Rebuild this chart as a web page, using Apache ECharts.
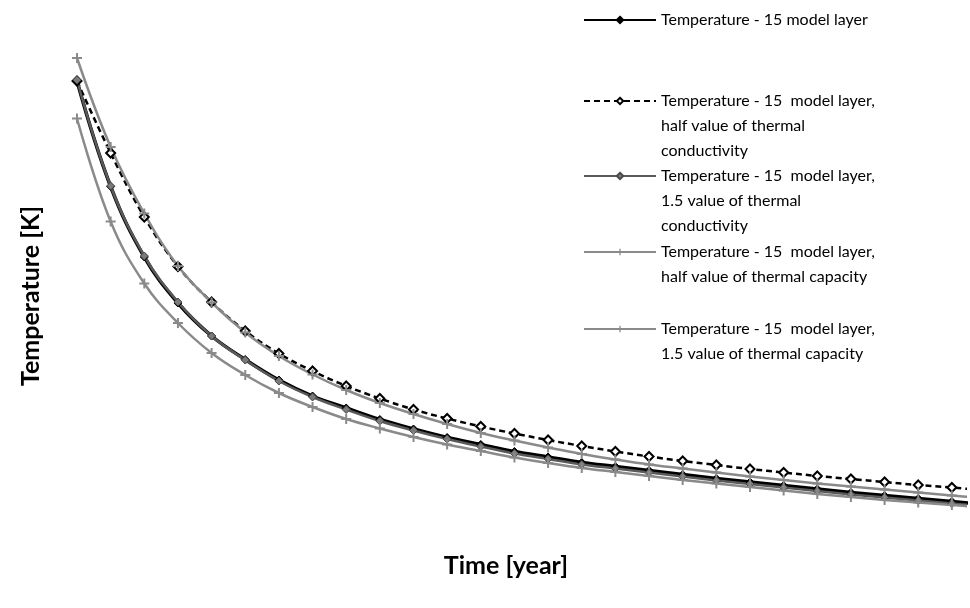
<!DOCTYPE html>
<html>
<head>
<meta charset="utf-8">
<script src="https://cdn.jsdelivr.net/npm/echarts@6/dist/echarts.min.js"></script>
<style>
  html, body { margin: 0; padding: 0; background: #fff; }
  #chart { width: 970px; height: 608px; }
</style>
</head>
<body>
<div id="chart"></div>
<script>
// Time steps along the horizontal axis (years)
const years = [0, 1, 2, 3, 4, 5, 6, 7, 8, 9, 10, 11, 12, 13, 14, 15, 16, 17, 18, 19, 20, 21, 22, 23, 24, 25, 26, 27];

// Temperature curves (relative scale) for the 15-layer model variants
const tempBase = [527, 421.5, 351, 305, 272, 248.5, 228, 212, 200, 188.5, 179, 170.5, 163.5, 156.5, 151, 145.5, 141.5, 137.5, 133.5, 129.5, 126, 122.5, 119, 115.5, 112.5, 109.5, 106.5, 103.5];
const tempHalfCond = [527, 455, 391, 341.5, 306, 277, 254.5, 237, 222, 209.5, 198.5, 189.5, 181.5, 174.5, 168, 162, 156.5, 151.5, 147, 143, 139, 135.5, 132, 129, 126, 123, 120.5, 117.5];
const tempOneHalfCond = [528, 422, 352, 306, 272, 248, 227, 211, 198.5, 187, 177.5, 169, 161.5, 154.5, 149, 143.5, 139.5, 135.5, 131.5, 127.5, 124, 120.5, 117, 113.5, 110.5, 107.5, 104.5, 101.5];
const tempHalfCap = [550, 461, 394.5, 342, 305.5, 275.5, 252, 233.5, 218, 205, 194, 184, 175, 167.5, 160.5, 154, 148.5, 143.5, 139.5, 135.5, 131.5, 128, 124.5, 121.5, 118.5, 115.5, 112.5, 109.5];
const tempOneHalfCap = [489.5, 386.5, 324.5, 285, 255, 233, 215, 201, 189, 179.5, 171, 163.5, 157, 150.5, 145, 140, 136, 132, 128, 124.5, 121, 117.5, 114, 111, 108, 105.5, 103, 100.5];

// Series names (legend text, with the line breaks used in the legend)
const seriesNames = [
  'Temperature - 15 model layer',
  'Temperature - 15  model layer,\nhalf value of thermal\nconductivity',
  'Temperature - 15  model layer,\n1.5 value of thermal\nconductivity',
  'Temperature - 15  model layer,\nhalf value of thermal capacity',
  'Temperature - 15  model layer,\n1.5 value of thermal capacity'
];

const FONT = 'Lato';
const LINE_H = 25;
const plusSymbol = 'path://M4,0h2v4h4v2h-4v4h-2v-4h-4v-2h4z';

const pairs = arr => years.map((yr, i) => [yr, arr[i]]);

const chart = echarts.init(document.getElementById('chart'), null, { renderer: 'canvas' });

// One legend block per series; blank leading lines keep the icon level
// with the first line of a wrapped label.
const legendIconY = [20, 101, 176, 252, 329];
const legends = seriesNames.map((name, i) => {
  const n = name.split('\n').length;
  return {
    orient: 'vertical',
    left: 583,
    top: legendIconY[i] - (2 * n - 1) * LINE_H / 2,
    padding: 0,
    itemWidth: 72,
    itemHeight: 8,
    selectedMode: false,
    data: [name],
    formatter: nm => '\n'.repeat(n - 1) + nm,
    textStyle: { fontFamily: FONT, fontSize: 16, lineHeight: LINE_H, color: '#000' }
  };
});

const option = {
  animation: false,
  backgroundColor: '#fff',
  legend: legends,
  grid: { left: 77, right: 5, top: 0, bottom: 0, containLabel: false },
  xAxis: {
    type: 'value',
    min: 0,
    max: 26.39,
    show: false
  },
  yAxis: {
    type: 'value',
    min: 0,
    max: 608,
    show: false
  },
  graphic: [
    {
      type: 'text',
      x: 31, y: 296,
      rotation: Math.PI / 2,
      style: {
        text: 'Temperature [K]',
        fontFamily: FONT, fontSize: 25, fontWeight: 'bold', fill: '#000',
        align: 'center', verticalAlign: 'middle'
      }
    },
    {
      type: 'text',
      x: 506, y: 566,
      style: {
        text: 'Time [year]',
        fontFamily: FONT, fontSize: 25, fontWeight: 'bold', fill: '#000',
        align: 'center', verticalAlign: 'middle'
      }
    }
  ],
  series: [
    {
      name: seriesNames[0], type: 'line', data: pairs(tempBase), smooth: 0.4,
      symbol: 'diamond', symbolSize: 8, showAllSymbol: true, clip: true,
      lineStyle: { color: '#000', width: 3.5 },
      itemStyle: { color: '#000', borderColor: '#000', borderWidth: 1 }
    },
    {
      name: seriesNames[1], type: 'line', data: pairs(tempHalfCond), smooth: 0.4,
      symbol: 'diamond', symbolSize: 9, showAllSymbol: true, clip: true,
      lineStyle: { color: '#000', width: 2.5, type: [6, 4] },
      itemStyle: { color: '#fff', borderColor: '#000', borderWidth: 2 }
    },
    {
      name: seriesNames[2], type: 'line', data: pairs(tempOneHalfCond), smooth: 0.4,
      symbol: 'diamond', symbolSize: 8, showAllSymbol: true, clip: true,
      lineStyle: { color: '#5a5a5a', width: 2.5 },
      itemStyle: { color: '#7a7a7a', borderColor: '#4a4a4a', borderWidth: 1 }
    },
    {
      name: seriesNames[3], type: 'line', data: pairs(tempHalfCap), smooth: 0.4,
      symbol: plusSymbol, symbolSize: 10, showAllSymbol: true, clip: true,
      lineStyle: { color: '#8a8a8a', width: 2.5 },
      itemStyle: { color: '#8a8a8a' }
    },
    {
      name: seriesNames[4], type: 'line', data: pairs(tempOneHalfCap), smooth: 0.4,
      symbol: plusSymbol, symbolSize: 10, showAllSymbol: true, clip: true,
      lineStyle: { color: '#8a8a8a', width: 2.5 },
      itemStyle: { color: '#8a8a8a' }
    }
  ]
};

chart.setOption(option);
</script>
</body>
</html>
